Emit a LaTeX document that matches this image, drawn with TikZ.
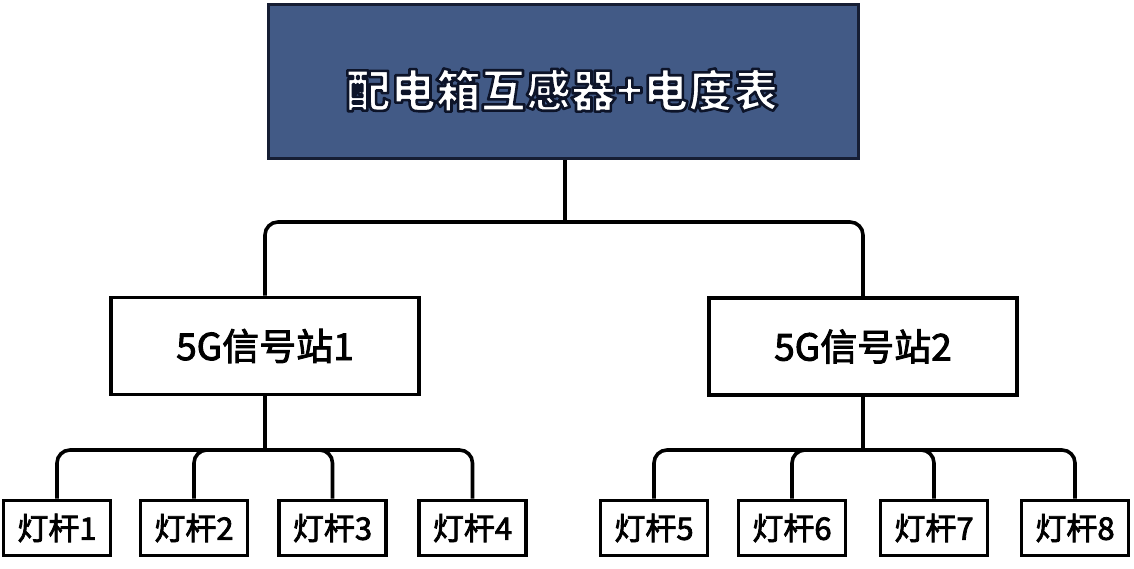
\documentclass[tikz,border=0pt]{standalone}
\usepackage{fontspec}
\newfontfamily\cjk{Noto Sans CJK SC}
\newfontfamily\cjkmid[FakeBold=2.5]{Noto Sans CJK SC}
\definecolor{topfill}{RGB}{66,90,134}
\definecolor{topline}{RGB}{22,30,52}
\newcommand\haloText[1]{\special{pdf:literal direct 2 Tr 2.6 w 1 j 0.05 0.08 0.16 RG}#1\special{pdf:literal direct 0 Tr}}
\tikzset{
  conn/.style={line width=3.6pt, rounded corners=13pt, black},
  topbox/.style={draw=topline, fill=topfill, line width=3pt, minimum width=590pt, minimum height=154pt, inner sep=0pt},
  stationbox/.style={draw=black, fill=white, line width=3.6pt, minimum width=308pt, minimum height=97pt, inner sep=0pt, font=\cjkmid\fontsize{37}{40}\selectfont},
  polebox/.style={draw=black, fill=white, line width=3.6pt, minimum width=107pt, minimum height=55pt, inner sep=0pt, font=\cjkmid\fontsize{31}{34}\selectfont},
  toptext/.style={font=\cjk\bfseries\fontsize{45}{50}\selectfont, inner sep=0pt},
}
\begin{document}
\begin{tikzpicture}[x=1pt,y=-1pt]
\useasboundingbox (0,0) rectangle (1134,568);
\fill[white] (0,0) rectangle (1134,568);
% top box
\node[topbox] (top) at (563.5,81.5) {};
\node[toptext, text=white] (toplabel) at (562,90) {\haloText{配电箱互感器+电度表}};
% stations
\node[stationbox] (s1) at (265,346) {5G信号站1};
\node[stationbox] (s2) at (863,346.5) {5G信号站2};
% poles
\node[polebox] (p1) at (57,528) {灯杆1};
\node[polebox] (p2) at (194,528) {灯杆2};
\node[polebox] (p3) at (332.5,528) {灯杆3};
\node[polebox] (p4) at (472.5,528) {灯杆4};
\node[polebox] (p5) at (654,528) {灯杆5};
\node[polebox] (p6) at (792,528) {灯杆6};
\node[polebox] (p7) at (934,528) {灯杆7};
\node[polebox] (p8) at (1075,528) {灯杆8};
% bus coordinates
\coordinate (j0) at (565,222);
\coordinate (j1) at (265,450);
\coordinate (j2) at (863,450);
% connectors
\draw[conn] (top.south -| j0) -- (j0);
\draw[conn] (s1.north) |- (j0) -| (s2.north);
\draw[conn] (s1.south) -- (j1);
\draw[conn] (p1.north) |- (j1) -| (p4.north);
\draw[conn] (p2.north) |- (j1);
\draw[conn] (p3.north) |- (j1);
\draw[conn] (s2.south) -- (j2);
\draw[conn] (p5.north) |- (j2) -| (p8.north);
\draw[conn] (p6.north) |- (j2);
\draw[conn] (p7.north) |- (j2);
\end{tikzpicture}
\end{document}
